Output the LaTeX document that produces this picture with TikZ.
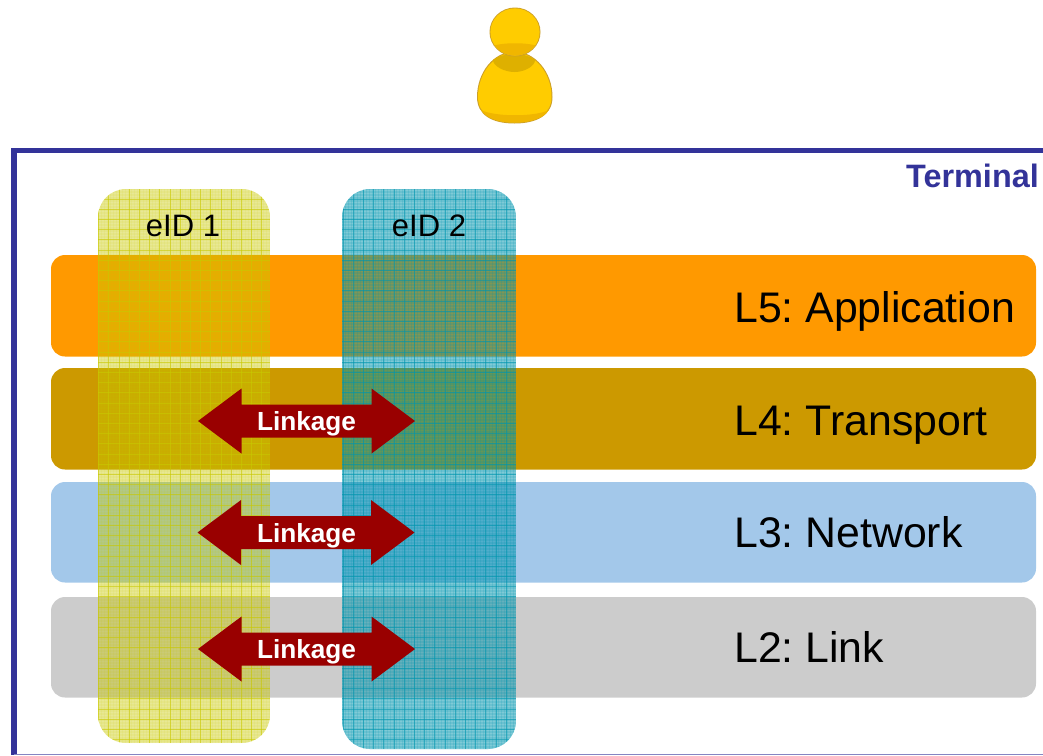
\documentclass[tikz,border=0pt]{standalone}
\usepackage{fontspec}
\setmainfont{Liberation Sans}
\usetikzlibrary{calc}
\frenchspacing
\definecolor{framec}{HTML}{333399}
\definecolor{arrowc}{HTML}{990000}
\definecolor{yel}{HTML}{C8C800}
\definecolor{teal}{HTML}{0095AE}
\definecolor{pedge}{RGB}{205,160,40}
\definecolor{pgold}{RGB}{255,204,0}
\definecolor{pshade}{RGB}{240,182,0}
\definecolor{pneck}{RGB}{222,176,0}
\tikzset{
 barbox/.style={rounded corners=14pt,draw=none},
 bartext/.style={anchor=base west,inner sep=0pt,font=\fontsize{42.8}{42}\selectfont},
 eidtext/.style={anchor=base,inner sep=0pt,font=\fontsize{31}{31}\selectfont},
 linktext/.style={inner sep=0pt,text=white,font=\bfseries\fontsize{26.2}{26}\selectfont},
 eidclip/.style={rounded corners=28pt},
}
\newcommand{\linkarrow}[4]{% name, left tip, right tip, centre y
 \fill[arrowc] (#2,#4) -- (#2+43.5,#4-32.5) -- (#2+43.5,#4-16.5) -- (#3-43.5,#4-16.5) -- (#3-43.5,#4-32.5) -- (#3,#4)
   -- (#3-43.5,#4+32.5) -- (#3-43.5,#4+16.5) -- (#2+43.5,#4+16.5) -- (#2+43.5,#4+32.5) -- cycle;
 \node[linktext,anchor=base] (#1) at (306.5,#4+9.5) {Linkage};
}
\begin{document}
\begin{tikzpicture}[x=1pt,y=-1pt]
\useasboundingbox (0,0) rectangle (1043,755);
% person: body
\path[fill=pedge] (514.5,51.5) .. controls (494,51.5) and (477,72) .. (477,97) .. controls (477,115) and (492,123.5) .. (514.5,123.5) .. controls (537,123.5) and (552.5,115) .. (552.5,97) .. controls (552.5,72) and (535,51.5) .. (514.5,51.5) -- cycle;
\path[fill=pgold] (514.5,52.5) .. controls (495,52.5) and (478,72.5) .. (478,97) .. controls (478,114) and (493,122.5) .. (514.5,122.5) .. controls (536,122.5) and (551.5,114) .. (551.5,97) .. controls (551.5,72.5) and (534,52.5) .. (514.5,52.5) -- cycle;
\path[fill=pshade] (481,110) .. controls (495,117) and (535,117) .. (549,110) .. controls (543,119) and (530,122.5) .. (514.5,122.5) .. controls (499,122.5) and (487,119) .. (481,110) -- cycle;
\path[fill=pneck] (493,60) .. controls (503,52) and (526,52) .. (535,60) .. controls (535,66) and (525,72) .. (514.5,72) .. controls (504,72) and (493,66) .. (493,60) -- cycle;
% person: head
\path[fill=pedge] (515,32) circle[x radius=25.5,y radius=24.5];
\path[fill=pgold] (515,32) circle[x radius=24.6,y radius=23.6];
\begin{scope}
 \clip (515,32) circle[x radius=24.6,y radius=23.6];
 \path[fill=pshade] (490,47) .. controls (500,42) and (530,42) .. (540,47) -- (540,60) -- (490,60) -- cycle;
\end{scope}
% frame
\draw[framec,line width=5.5pt] (14,755) -- (14,150.3) -- (1043,150.3);
\draw[framec!60,line width=1.2pt] (14,754.2) -- (1043,754.2);
\node[anchor=base east,inner sep=0pt,text=framec,font=\bfseries\fontsize{32.4}{32}\selectfont] (term) at (1039,187) {Terminal};
% layers
\fill[barbox,fill={rgb,255:red,255;green,153;blue,0}] (51,255) rectangle (1036,356.5);
\fill[barbox,fill={rgb,255:red,204;green,153;blue,0}] (51,368) rectangle (1036,469.5);
\fill[barbox,fill={rgb,255:red,163;green,200;blue,234}] (51,482) rectangle (1036,582.5);
\fill[barbox,fill={rgb,255:red,204;green,204;blue,204}] (51,597) rectangle (1036,697.5);
\node[bartext] (l5) at (734,322) {L5: Application};
\node[bartext] (l4) at (734,435) {L4: Transport};
\node[bartext] (l3) at (734,547) {L3: Network};
\node[bartext] (l2) at (734,662) {L2: Link};
% eID 1
\begin{scope}
 \clip[eidclip] (98,189) rectangle (270,743);
 \fill[yel,opacity=.42] (98,189) rectangle (270,743);
 \foreach \i in {0,...,57} \draw[yel,opacity=.08,line width=1.4pt] (98.5+\i*3,189) -- (98.5+\i*3,743);
 \foreach \i in {0,...,185} \draw[yel,opacity=.08,line width=1.4pt] (98,189+\i*3) -- (270,189+\i*3);
 \foreach \i in {0,...,17} \draw[yel,opacity=.6,line width=.8pt] (98.5+\i*10.2,189) -- (98.5+\i*10.2,743);
 \foreach \i in {0,...,54} \draw[yel,opacity=.6,line width=.8pt] (98,199+\i*10.2) -- (270,199+\i*10.2);
\end{scope}
% eID 2
\begin{scope}
 \clip[eidclip] (342,189) rectangle (516,749);
 \fill[teal,opacity=.5] (342,189) rectangle (516,749);
 \foreach \i in {0,...,58} \draw[teal,opacity=.16,line width=1.4pt] (342.5+\i*3,189) -- (342.5+\i*3,749);
 \foreach \i in {0,...,187} \draw[teal,opacity=.16,line width=1.4pt] (342,189+\i*3) -- (516,189+\i*3);
 \foreach \i in {0,...,17} \draw[teal,opacity=.6,line width=.8pt] (343+\i*10.2,189) -- (343+\i*10.2,749);
 \foreach \i in {0,...,55} \draw[teal,opacity=.6,line width=.8pt] (342,199+\i*10.2) -- (516,199+\i*10.2);
\end{scope}
\node[eidtext] (e1) at (183,236) {eID 1};
\node[eidtext] (e2) at (429,236) {eID 2};
% linkage arrows
\linkarrow{a4}{198}{415}{421}
\linkarrow{a3}{197.5}{414.5}{532.5}
\linkarrow{a2}{198}{415}{649}
\end{tikzpicture}
\end{document}
